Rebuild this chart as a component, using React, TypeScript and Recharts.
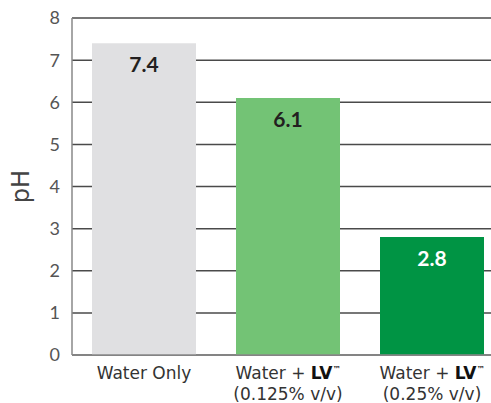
import { Bar, BarChart, CartesianGrid, Cell, LabelList, XAxis, YAxis } from "recharts";

const categories = ["Water Only", "Water + LV (0.125% v/v)", "Water + LV (0.25% v/v)"];
const phValues = [7.4, 6.1, 2.8];
const yTicks = [0, 1, 2, 3, 4, 5, 6, 7, 8];
const barColors = ["#e0e0e2", "#73c375", "#009444"];
const labelColors = ["#231f20", "#231f20", "#ffffff"];

const data = categories.map((name, i) => ({ name, ph: phValues[i] }));

const FONT = "Lato, 'DejaVu Sans', sans-serif";
const TICK_FONT = "'DejaVu Sans', sans-serif";

function XTick(props: any) {
  const { x, y, payload } = props;
  const name: string = payload.value;
  const m = name.match(/^Water \+ LV \((.*)\)$/);
  if (!m) {
    return (
      <text x={x} y={y + 16} textAnchor="middle" fill="#333" fontSize={17} fontFamily={TICK_FONT}>
        {name}
      </text>
    );
  }
  return (
    <g>
      <text x={x} y={y + 16} textAnchor="middle" fill="#333" fontSize={17} fontFamily={TICK_FONT}>
        <tspan>Water + </tspan>
        <tspan fontWeight="bold" fill="#111">LV</tspan>
        <tspan fontSize={8} dy={-7} fontWeight="bold" fill="#111">™</tspan>
      </text>
      <text x={x} y={y + 37} textAnchor="middle" fill="#333" fontSize={17} fontFamily={TICK_FONT}>
        ({m[1]})
      </text>
    </g>
  );
}

function ValueLabel(props: any) {
  const { x, y, width, value, index } = props;
  return (
    <text
      x={x + width / 2}
      y={y + 29}
      textAnchor="middle"
      fill={labelColors[index]}
      fontSize={21}
      fontWeight="bold"
      fontFamily={FONT}
    >
      {value.toFixed(1)}
    </text>
  );
}

export default function App() {
  return (
    <div style={{ position: "fixed", left: 0, top: 0, width: 491, height: 403, overflow: "hidden", background: "#fff" }}>
      <BarChart
        width={504}
        height={403}
        data={data}
        margin={{ top: 18, right: 0, bottom: 0, left: 0 }}
        barSize={104}
      >
        <CartesianGrid vertical={false} stroke="#4a4a4a" strokeWidth={1.5} />
        <XAxis
          dataKey="name"
          height={48}
          axisLine={{ stroke: "#888", strokeWidth: 1.5 }}
          tickLine={false}
          tick={<XTick />}
          interval={0}
        />
        <YAxis
          width={72}
          domain={[0, 8]}
          ticks={yTicks}
          axisLine={{ stroke: "#888", strokeWidth: 1.5 }}
          tickLine={false}
          tickMargin={6}
          tick={{ fill: "#555", fontSize: 18, fontFamily: FONT }}
          label={{
            value: "pH",
            angle: -90,
            position: "insideLeft",
            offset: 20,
            style: { fill: "#444", fontSize: 24, fontFamily: TICK_FONT, textAnchor: "middle" },
          }}
        />
        <Bar dataKey="ph" isAnimationActive={false}>
          {data.map((_, i) => (
            <Cell key={i} fill={barColors[i]} />
          ))}
          <LabelList dataKey="ph" content={<ValueLabel />} />
        </Bar>
      </BarChart>
    </div>
  );
}
